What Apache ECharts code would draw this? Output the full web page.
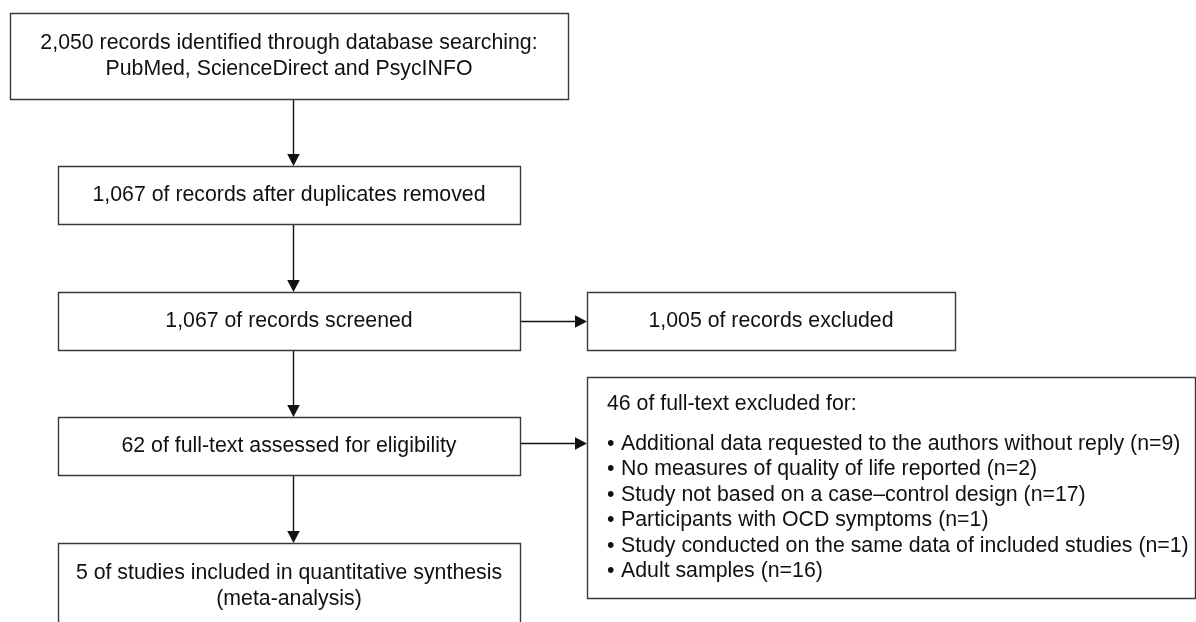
<!DOCTYPE html>
<html>
<head>
<meta charset="utf-8">
<script src="https://cdn.jsdelivr.net/npm/echarts@6/dist/echarts.min.js"></script>
<style>
html, body { margin: 0; padding: 0; background: #fff; }
#chart { width: 1196px; height: 622px; }
</style>
</head>
<body>
<div id="chart"></div>
<script>
// flow steps (main column, top to bottom)
const mainSteps = [
    '2,050 records identified through database searching:\nPubMed, ScienceDirect and PsycINFO',
    '1,067 of records after duplicates removed',
    '1,067 of records screened',
    '62 of full-text assessed for eligibility',
    '5 of studies included in quantitative synthesis\n(meta-analysis)'
];
const excludedRecords = '1,005 of records excluded';
const fullTextHeader = '46 of full-text excluded for:';
const exclusionReasons = [
    'Additional data requested to the authors without reply',
    'No measures of quality of life reported',
    'Study not based on a case\u2013control design',
    'Participants with OCD symptoms',
    'Study conducted on the same data of included studies',
    'Adult samples'
];
const exclusionCounts = [9, 2, 17, 1, 1, 16];

// layout in page units [x0, y0, x1, y1]
const mainBoxes = [
    [10, 13, 568, 99],
    [58, 166, 520, 224],
    [58, 292, 520, 350],
    [58, 417, 520, 475],
    [58, 543, 520, 640]
];
const sideBoxes = [
    [587, 292, 955, 350],
    [587, 377, 1195, 598]
];
// arrows [x0, y0, x1, y1]
const arrows = [
    [293, 99, 293, 166],
    [293, 224, 293, 292],
    [293, 350, 293, 417],
    [293, 475, 293, 543],
    [520, 321, 587, 321],
    [520, 443, 587, 443]
];

const FONT = '21.3px "Liberation Sans", Arial, sans-serif';
const LINE_COLOR = '#3a3a3a';
const TEXT_COLOR = '#111';

function textEl(txt, x, y, align) {
    return {
        type: 'text',
        x: x, y: y,
        style: {
            text: txt, x: 0, y: 0,
            font: FONT, fill: TEXT_COLOR,
            align: align, verticalAlign: 'middle',
            lineHeight: 26
        }
    };
}

function rectEl(p0, p1) {
    return {
        type: 'rect',
        shape: { x: p0[0] + 0.5, y: p0[1] + 0.5, width: p1[0] - p0[0], height: p1[1] - p0[1] },
        style: { fill: '#fff', stroke: LINE_COLOR, lineWidth: 1.4 }
    };
}

const boxData = [];
mainBoxes.forEach((b, i) => boxData.push(b.concat([i, 0])));
sideBoxes.forEach((b, i) => boxData.push(b.concat([i, 1])));

const chart = echarts.init(document.getElementById('chart'));
chart.setOption({
    animation: false,
    grid: { left: 0, right: 0, top: 0, bottom: 0 },
    xAxis: { type: 'value', min: 0, max: 1196, show: false },
    yAxis: { type: 'value', min: 0, max: 622, inverse: true, show: false },
    series: [
        {
            type: 'custom',
            coordinateSystem: 'cartesian2d',
            data: arrows,
            silent: true,
            renderItem: function (params, api) {
                const a = api.coord([api.value(0), api.value(1)]);
                const b = api.coord([api.value(2), api.value(3)]);
                const vertical = Math.abs(a[0] - b[0]) < 1;
                const h = 12, w = 6.3;
                let head, end;
                if (vertical) {
                    end = [b[0] + 0.5, b[1] - h];
                    head = [[b[0] + 0.5 - w, b[1] - h], [b[0] + 0.5 + w, b[1] - h], [b[0] + 0.5, b[1]]];
                } else {
                    end = [b[0] - h, b[1] + 0.5];
                    head = [[b[0] - h, b[1] + 0.5 - w], [b[0] - h, b[1] + 0.5 + w], [b[0], b[1] + 0.5]];
                }
                return {
                    type: 'group',
                    children: [
                        {
                            type: 'line',
                            shape: vertical
                                ? { x1: a[0] + 0.5, y1: a[1], x2: end[0], y2: end[1] }
                                : { x1: a[0], y1: a[1] + 0.5, x2: end[0], y2: end[1] },
                            style: { stroke: '#111', lineWidth: 1.4 }
                        },
                        { type: 'polygon', shape: { points: head }, style: { fill: '#111' } }
                    ]
                };
            }
        },
        {
            type: 'custom',
            coordinateSystem: 'cartesian2d',
            data: boxData,
            silent: true,
            renderItem: function (params, api) {
                const p0 = api.coord([api.value(0), api.value(1)]);
                const p1 = api.coord([api.value(2), api.value(3)]);
                const idx = api.value(4);
                const side = api.value(5);
                const children = [rectEl(p0, p1)];
                const cx = (p0[0] + p1[0]) / 2;
                if (side === 0) {
                    const cy = idx === 4 ? p0[1] + 43 : (p0[1] + p1[1]) / 2;
                    children.push(textEl(mainSteps[idx], cx, cy, 'center'));
                } else if (idx === 0) {
                    children.push(textEl(excludedRecords, cx, (p0[1] + p1[1]) / 2, 'center'));
                } else {
                    const left = p0[0] + 20;
                    children.push(textEl(fullTextHeader, left, p0[1] + 27, 'left'));
                    exclusionReasons.forEach((r, k) => {
                        const y = p0[1] + 67 + k * 25.5;
                        children.push(textEl('\u2022', left, y, 'left'));
                        children.push(textEl(r + ' (n=' + exclusionCounts[k] + ')', left + 14, y, 'left'));
                    });
                }
                return { type: 'group', children: children };
            }
        }
    ]
});
</script>
</body>
</html>
